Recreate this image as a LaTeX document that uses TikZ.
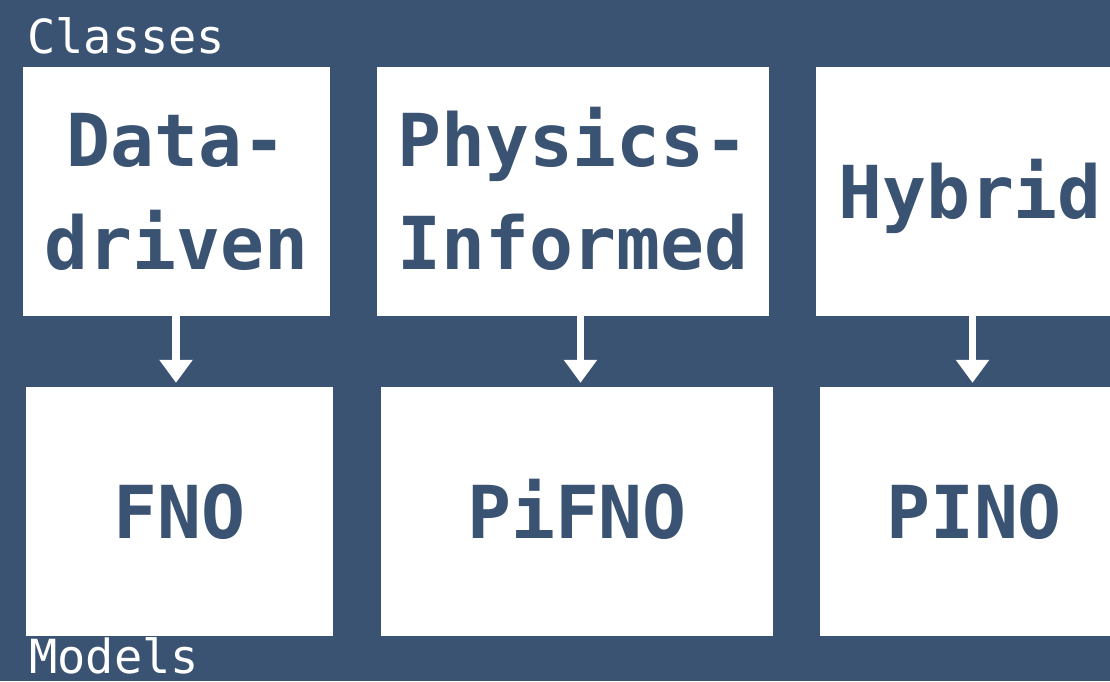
\documentclass[tikz,border=0pt]{standalone}
\usepackage{fontspec}
\setmainfont{DejaVu Sans Mono}
\usetikzlibrary{arrows.meta}
\definecolor{navy}{RGB}{58,83,115}
\tikzset{
  cls/.style={draw=none, fill=white, text=navy, inner sep=0pt, align=center,
    font=\fontsize{73}{103}\bfseries\selectfont, text height=53pt, text depth=0pt},
  cls2/.style={cls, text height=156pt},
  lbl/.style={text=white, inner sep=0pt, anchor=base west, font=\fontsize{47}{50}\selectfont},
  arr/.style={draw=white, line width=7.5pt, line join=round,
    -{Triangle[width=32pt,length=23pt]}}
}
\begin{document}
\begin{tikzpicture}[x=1pt,y=-1pt]
\fill[navy] (0,0) rectangle (1110,681);
\useasboundingbox (0,0) rectangle (1110,681);
\node[cls2, minimum width=307pt, minimum height=249pt] (data) at (176.5,191.5) {Data-\\driven};
\node[cls2, minimum width=392pt, minimum height=249pt] (phys) at (573,191.5) {Physics-\\Informed};
\node[cls, minimum width=308pt, minimum height=249pt] (hyb) at (970,191.5) {Hybrid};
\node[cls, minimum width=307pt, minimum height=249pt] (fno) at (179.5,511.5) {FNO};
\node[cls, minimum width=392pt, minimum height=249pt] (pifno) at (577,511.5) {PiFNO};
\node[cls, minimum width=308pt, minimum height=249pt] (pino) at (974,511.5) {PINO};
\node[lbl] (classes) at (27,53) {Classes};
\node[lbl] (models) at (29,673) {Models};
\draw[arr] ([xshift=-0.5pt]data.south) -- ([xshift=-3.5pt,yshift=4pt]fno.north);
\draw[arr] ([xshift=7.5pt]phys.south) -- ([xshift=3.5pt,yshift=4pt]pifno.north);
\draw[arr] ([xshift=2.5pt]hyb.south) -- ([xshift=-1.5pt,yshift=4pt]pino.north);
\end{tikzpicture}
\end{document}
